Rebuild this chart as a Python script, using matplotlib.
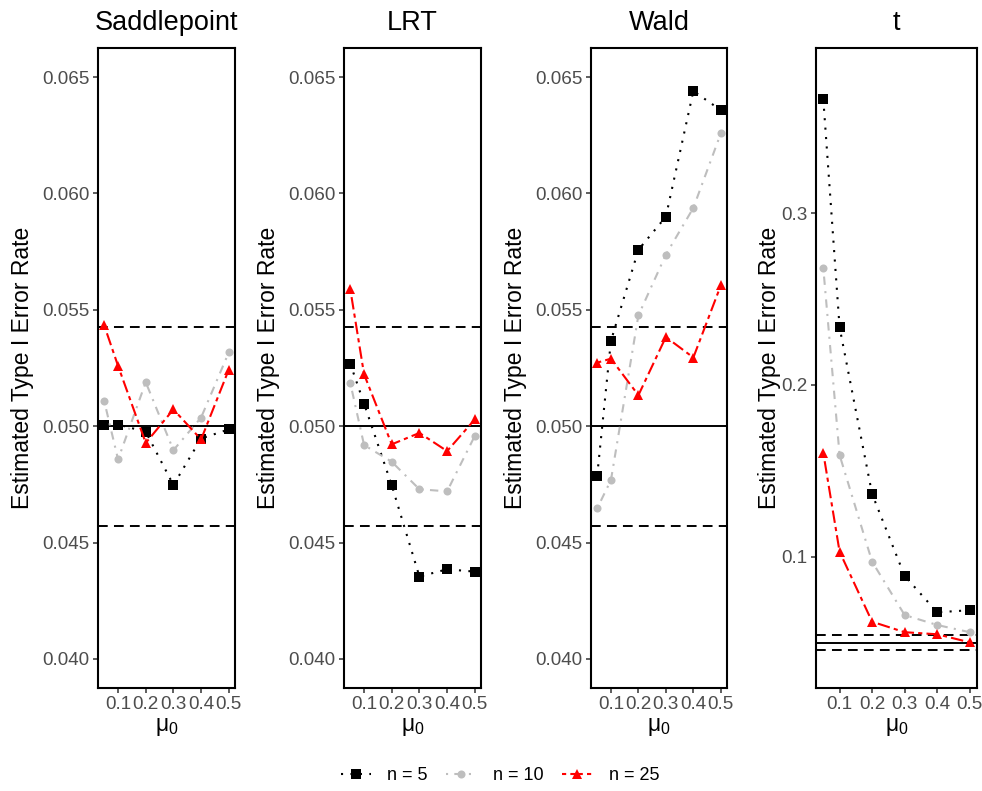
import numpy as np
import matplotlib
matplotlib.use("Agg")
import matplotlib.pyplot as plt

plt.rcParams['font.family'] = ['Liberation Sans', 'DejaVu Sans']
plt.rcParams['mathtext.fontset'] = 'custom'
plt.rcParams['mathtext.rm'] = 'Liberation Sans'
plt.rcParams['mathtext.it'] = 'Liberation Sans:italic'
plt.rcParams['lines.scale_dashes'] = False

# data
mu0 = [0.05, 0.1, 0.2, 0.3, 0.4, 0.5]
methods = ['Saddlepoint', 'LRT', 'Wald', 't']
sizes = ['n = 5', 'n = 10', 'n = 25']

saddle_n5 = [0.05007, 0.05007, 0.04976, 0.04747, 0.04947, 0.04986]
saddle_n10 = [0.05108, 0.04857, 0.05189, 0.04897, 0.05037, 0.05317]
saddle_n25 = [0.05433, 0.05259, 0.04928, 0.05072, 0.04943, 0.05243]

lrt_n5 = [0.05269, 0.05097, 0.04746, 0.04354, 0.04385, 0.04375]
lrt_n10 = [0.05187, 0.04919, 0.04847, 0.04729, 0.04720, 0.04958]
lrt_n25 = [0.05590, 0.05223, 0.04922, 0.04971, 0.04893, 0.05029]

wald_n5 = [0.04787, 0.05366, 0.05758, 0.05900, 0.06440, 0.06358]
wald_n10 = [0.04647, 0.04768, 0.05476, 0.05737, 0.05938, 0.06258]
wald_n25 = [0.05273, 0.05290, 0.05133, 0.05383, 0.05295, 0.05605]

t_n5 = [0.3664, 0.2336, 0.1365, 0.0888, 0.0676, 0.0688]
t_n10 = [0.2680, 0.1592, 0.0971, 0.0660, 0.0602, 0.0560]
t_n25 = [0.1604, 0.1029, 0.0621, 0.0560, 0.0548, 0.0501]

alpha = 0.05
band = 1.96 * np.sqrt(alpha * (1 - alpha) / 10000)

series = {
    'Saddlepoint': [saddle_n5, saddle_n10, saddle_n25],
    'LRT': [lrt_n5, lrt_n10, lrt_n25],
    'Wald': [wald_n5, wald_n10, wald_n25],
    't': [t_n5, t_n10, t_n25],
}

colors = ['black', '#BEBEBE', '#FF0000']
markers = ['s', 'o', '^']
msizes = [6.8, 5.8, 7.3]
styles = [(0, (1.5, 5.3)), (0, (1.5, 4.5, 6.0, 4.5)), (0, (3.0, 3.0, 9.0, 3.0))]

fig = plt.figure(figsize=(9.82, 7.91), dpi=100)

W, H = 982, 791
boxes = [(98, 235), (344, 481), (591, 727), (816, 977)]
top_px, bot_px = 48, 688

handles = []
for k, m in enumerate(methods):
    l, r = boxes[k]
    ax = fig.add_axes([l / W, 1 - bot_px / H, (r - l) / W, (bot_px - top_px) / H])
    for j in range(3):
        h, = ax.plot(mu0, series[m][j], color=colors[j], linestyle=styles[j],
                     linewidth=1.5, marker=markers[j], markersize=msizes[j],
                     markeredgewidth=0, label=sizes[j])
        if k == 0:
            handles.append(h)
    ax.axhline(alpha, color='black', linewidth=1.4, zorder=1)
    for b in (alpha - band, alpha + band):
        ax.axhline(b, color='black', linewidth=1.4, linestyle=(0, (7, 4.5)), zorder=1)

    ax.set_xlim(0.0275, 0.5225)
    ax.set_xticks([0.1, 0.2, 0.3, 0.4, 0.5])
    ax.set_xticklabels(['0.1', '0.2', '0.3', '0.4', '0.5'])
    if m == 't':
        ax.set_ylim(0.0235, 0.3963)
        ax.set_yticks([0.1, 0.2, 0.3])
        ax.set_yticklabels(['0.1', '0.2', '0.3'])
        ax.yaxis.set_label_coords(-0.215, 0.5)
    else:
        ax.set_ylim(0.03875, 0.06625)
        ax.set_yticks([0.040, 0.045, 0.050, 0.055, 0.060, 0.065])
        ax.set_yticklabels(['0.040', '0.045', '0.050', '0.055', '0.060', '0.065'])
        ax.yaxis.set_label_coords(-0.47, 0.5)

    ax.tick_params(axis='both', labelsize=13.6, labelcolor='#4D4D4D',
                   color='#333333', length=3.5, width=1.1, pad=2.5)
    for s in ax.spines.values():
        s.set_linewidth(1.5)
        s.set_color('black')
    ax.set_title(m, fontsize=19.5, pad=13)
    ax.set_ylabel('Estimated Type I Error Rate', fontsize=16.5)
    ax.set_xlabel('μ$_0$', fontsize=16.5, labelpad=1)

fig.legend(handles=handles, loc='center', bbox_to_anchor=(0.509, 1 - 776 / H),
           ncol=3, frameon=False, fontsize=13, handlelength=1.7,
           handletextpad=0.9, columnspacing=1.0)

fig.savefig('out.png', dpi=100)
